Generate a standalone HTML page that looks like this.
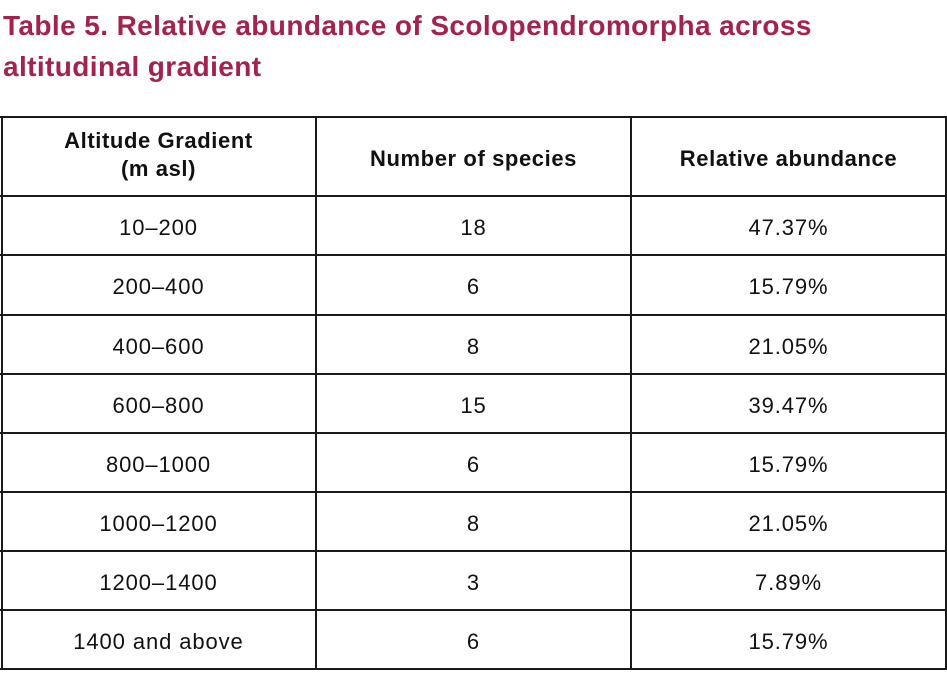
<!DOCTYPE html>
<html><head><meta charset="utf-8"><style>
body{margin:0;width:947px;height:693px;background:#fff;position:relative;overflow:hidden;font-family:"Liberation Sans",Carlito,sans-serif}
.t{position:absolute;left:3px;color:#a3234f;font-weight:bold;font-size:28px;letter-spacing:0.4px;white-space:nowrap}
.h{position:absolute;background:#1a1a1a;height:2px;left:0;width:947px}
.v{position:absolute;background:#1a1a1a;width:2px;top:116px;height:554px}
.c{position:absolute;text-align:center;font-size:22px;color:#111;line-height:28px;letter-spacing:0.9px}
.b{font-weight:bold;letter-spacing:0.6px}
</style></head><body>
<div class="t" style="top:10px">Table 5. Relative abundance of Scolopendromorpha across</div>
<div class="t" style="top:51px">altitudinal gradient</div>
<div class="h" style="top:116px"></div>
<div class="h" style="top:195px"></div>
<div class="h" style="top:254px"></div>
<div class="h" style="top:314px"></div>
<div class="h" style="top:373px"></div>
<div class="h" style="top:432px"></div>
<div class="h" style="top:491px"></div>
<div class="h" style="top:550px"></div>
<div class="h" style="top:609px"></div>
<div class="h" style="top:668px"></div>
<div class="v" style="left:1px"></div>
<div class="v" style="left:315px"></div>
<div class="v" style="left:630px"></div>
<div class="v" style="left:945px"></div>
<div class="c b" style="left:2px;width:313px;top:127px">Altitude Gradient<br>(m asl)</div>
<div class="c b" style="left:317px;width:313px;top:145px">Number of species</div>
<div class="c b" style="left:632px;width:313px;top:145px">Relative abundance</div>
<div class="c" style="left:2px;width:313px;top:214px">10–200</div><div class="c" style="left:317px;width:313px;top:214px">18</div><div class="c" style="left:632px;width:313px;top:214px">47.37%</div>
<div class="c" style="left:2px;width:313px;top:273px">200–400</div><div class="c" style="left:317px;width:313px;top:273px">6</div><div class="c" style="left:632px;width:313px;top:273px">15.79%</div>
<div class="c" style="left:2px;width:313px;top:333px">400–600</div><div class="c" style="left:317px;width:313px;top:333px">8</div><div class="c" style="left:632px;width:313px;top:333px">21.05%</div>
<div class="c" style="left:2px;width:313px;top:392px">600–800</div><div class="c" style="left:317px;width:313px;top:392px">15</div><div class="c" style="left:632px;width:313px;top:392px">39.47%</div>
<div class="c" style="left:2px;width:313px;top:451px">800–1000</div><div class="c" style="left:317px;width:313px;top:451px">6</div><div class="c" style="left:632px;width:313px;top:451px">15.79%</div>
<div class="c" style="left:2px;width:313px;top:510px">1000–1200</div><div class="c" style="left:317px;width:313px;top:510px">8</div><div class="c" style="left:632px;width:313px;top:510px">21.05%</div>
<div class="c" style="left:2px;width:313px;top:569px">1200–1400</div><div class="c" style="left:317px;width:313px;top:569px">3</div><div class="c" style="left:632px;width:313px;top:569px">7.89%</div>
<div class="c" style="left:2px;width:313px;top:628px">1400 and above</div><div class="c" style="left:317px;width:313px;top:628px">6</div><div class="c" style="left:632px;width:313px;top:628px">15.79%</div>
</body></html>
